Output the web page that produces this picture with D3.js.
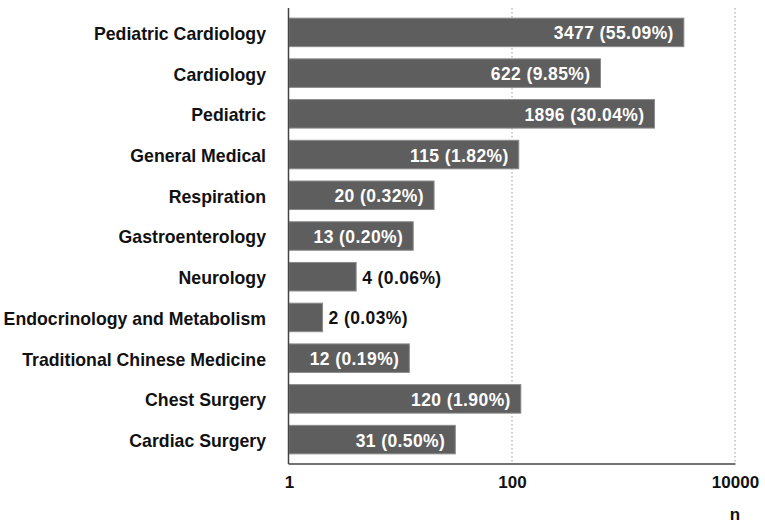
<!DOCTYPE html>
<html>
<head>
<meta charset="utf-8">
<script src="https://cdn.jsdelivr.net/npm/d3@7"></script>
<style>
  body { margin: 0; background: #fff; }
  text { font-family: "Liberation Sans", Arial, sans-serif; font-weight: bold; }
</style>
</head>
<body>
<div id="chart"></div>
<script>
var departments = ["Pediatric Cardiology", "Cardiology", "Pediatric", "General Medical",
  "Respiration", "Gastroenterology", "Neurology", "Endocrinology and Metabolism",
  "Traditional Chinese Medicine", "Chest Surgery", "Cardiac Surgery"];
var counts = [3477, 622, 1896, 115, 20, 13, 4, 2, 12, 120, 31];
var percents = ["55.09%", "9.85%", "30.04%", "1.82%", "0.32%", "0.20%", "0.06%", "0.03%", "0.19%", "1.90%", "0.50%"];
var tickValues = [1, 100, 10000];

var width = 765, height = 527;
var margin = {top: 8, left: 289, right: 30, bottom: 63};

var svg = d3.select("#chart").append("svg")
  .attr("width", width)
  .attr("height", height);

var x = d3.scaleLog()
  .domain([1, 10000])
  .range([margin.left, width - margin.right]);

var y = d3.scaleBand()
  .domain(departments)
  .range([margin.top + 2, height - margin.bottom - 2])
  .paddingInner(0.3)
  .paddingOuter(0.2);

// dotted gridlines
svg.selectAll("line.grid")
  .data(tickValues.slice(1))
  .enter()
  .append("line")
  .attr("class", "grid")
  .attr("x1", function(d){ return x(d); })
  .attr("x2", function(d){ return x(d); })
  .attr("y1", margin.top)
  .attr("y2", height - margin.bottom)
  .style("stroke", "#999")
  .style("stroke-dasharray", "1.5,2.5")
  .style("stroke-width", 1);

var data = departments.map(function(d, i){
  return {name: d, n: counts[i], pct: percents[i]};
});

svg.selectAll("rect.bar")
  .data(data)
  .enter()
  .append("rect")
  .attr("class", "bar")
  .attr("x", x(1))
  .attr("y", function(d){ return y(d.name); })
  .attr("width", function(d){ return x(d.n) - x(1); })
  .attr("height", y.bandwidth())
  .style("fill", "#5e5e5e")
  .style("stroke", "#8a8a8a")
  .style("stroke-width", 1);

svg.selectAll("text.value")
  .data(data)
  .enter()
  .append("text")
  .attr("class", "value")
  .attr("font-size", "17.5px")
  .style("letter-spacing", "0.4px")
  .attr("y", function(d){ return y(d.name) + y.bandwidth()/2 + 7; })
  .attr("x", function(d){
    return d.n < 10 ? x(d.n) + 6 : x(d.n) - 10;
  })
  .attr("text-anchor", function(d){ return d.n < 10 ? "start" : "end"; })
  .style("fill", function(d){ return d.n < 10 ? "#111" : "#fff"; })
  .text(function(d){ return d.n + " (" + d.pct + ")"; });

// category labels
var yAxis = d3.axisLeft(y).tickSize(0).tickPadding(23);
var gy = svg.append("g")
  .attr("transform", "translate(" + margin.left + ",0)")
  .call(yAxis);
gy.select(".domain").remove();
gy.selectAll("text")
  .attr("font-size", "17.7px")
  .attr("dy", "0.42em")
  .style("fill", "#111")
  .attr("font-family", null);

// axis lines
svg.append("line")
  .attr("x1", margin.left - 0.5).attr("x2", margin.left - 0.5)
  .attr("y1", margin.top).attr("y2", height - margin.bottom)
  .style("stroke", "#444").style("stroke-width", 1.5);
svg.append("line")
  .attr("x1", margin.left - 0.5).attr("x2", width - margin.right + 0.5)
  .attr("y1", height - margin.bottom).attr("y2", height - margin.bottom)
  .style("stroke", "#444").style("stroke-width", 1.5);

var xAxis = d3.axisBottom(x).tickValues(tickValues)
  .tickFormat(d3.format("d")).tickSize(0).tickPadding(12);
var gx = svg.append("g")
  .attr("transform", "translate(0," + (height - margin.bottom) + ")")
  .call(xAxis);
gx.select(".domain").remove();
gx.selectAll("text")
  .attr("font-size", "17px")
  .style("fill", "#111")
  .attr("font-family", null);

svg.append("text")
  .attr("x", x(10000))
  .attr("y", 520)
  .attr("text-anchor", "middle")
  .attr("font-size", "17px")
  .style("fill", "#111")
  .text("n");
</script>
</body>
</html>
